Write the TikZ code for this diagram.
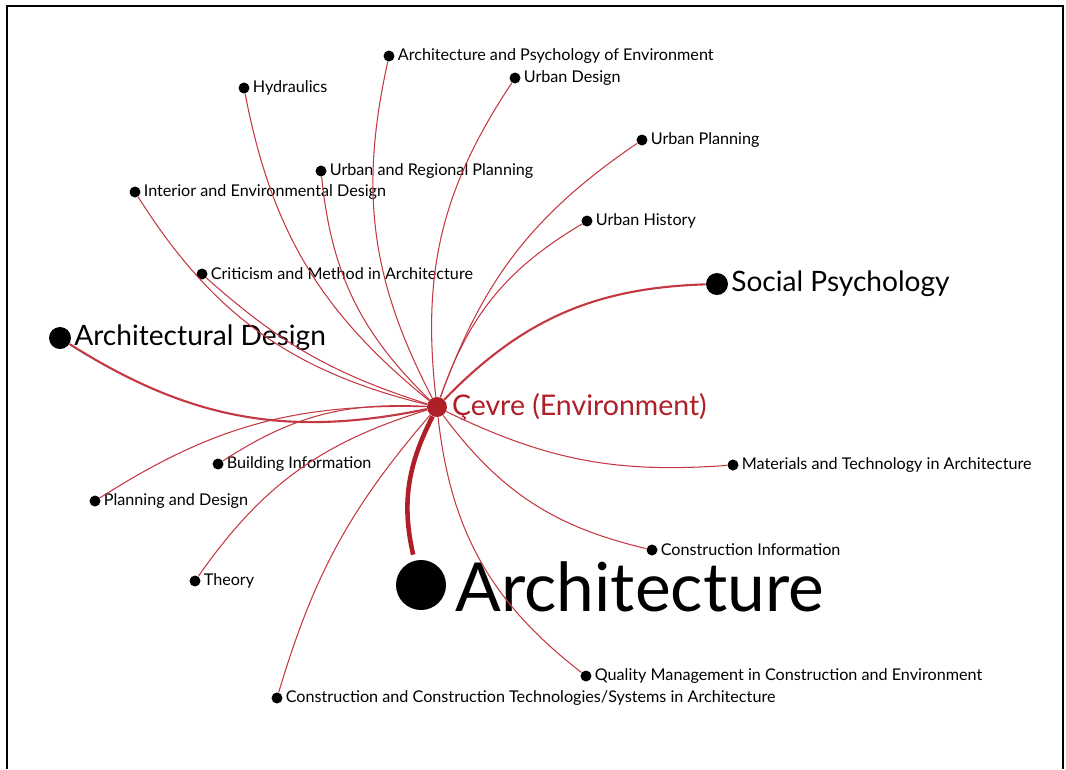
\documentclass[tikz,border=0pt]{standalone}
\usepackage{fontspec}
\setmainfont{Lato}
\usetikzlibrary{positioning}
\definecolor{envred}{RGB}{176,30,40}
\definecolor{edgered}{RGB}{196,56,66}
\tikzset{
    topic/.style={circle, fill=black, inner sep=0pt, minimum size=0.22cm,
        label distance=0pt},
    bigtopic/.style={circle, fill=black, inner sep=0pt, minimum size=0.44cm,
        label distance=2.5pt},
    smalltxt/.style={inner sep=1.5pt, font=\fontsize{9.2}{11}\selectfont},
    bigtxt/.style={inner sep=1.5pt, font=\fontsize{16}{19}\selectfont},
    link/.style={draw=edgered, line width=0.6pt},
    strong/.style={draw=edgered, line width=1.2pt},
    heavy/.style={draw=envred, line width=2.6pt}
}

\begin{document}
\begin{tikzpicture}[x=0.02cm, y=-0.02cm]

\useasboundingbox (0,0) rectangle (1066,769);
% frame (open at the bottom)
\draw[line width=1.2pt] (7,769) -- (7,6) -- (1063,6) -- (1063,769);

% ===============================================================
% ==== centre ====
% ===============================================================
\node[circle, fill=envred, inner sep=0pt, minimum size=0.4cm,
      label={[inner sep=1.5pt, label distance=1pt, text=envred, font=\fontsize{16.2}{19}\selectfont]right:Çevre (Environment)}]
      (env) at (437,407) {};

% ===============================================================
% ==== topics ====
% ===============================================================
\node[topic, label={[smalltxt]right:Architecture and Psychology of Environment}] (archpsy) at (389,56) {};
\node[topic, label={[smalltxt]right:Urban Design}] (udesign) at (515,78) {};
\node[topic, label={[smalltxt]right:Hydraulics}] (hydraulics) at (244,88) {};
\node[topic, label={[smalltxt]right:Urban Planning}] (uplanning) at (642,140) {};
\node[topic, label={[smalltxt]right:Urban and Regional Planning}] (urplanning) at (321,171) {};
\node[topic, label={[smalltxt]right:Interior and Environmental Design}] (interior) at (135,192) {};
\node[topic, label={[smalltxt]right:Urban History}] (uhistory) at (587,221) {};
\node[topic, label={[smalltxt]right:Criticism and Method in Architecture}] (criticism) at (202,274) {};
\node[bigtopic, label={[bigtxt]right:Social Psychology}] (socpsy) at (717,284) {};
\node[bigtopic, label={[bigtxt]right:Architectural Design}] (archdesign) at (60,338) {};
\node[topic, label={[smalltxt]right:Materials and Technology in Architecture}] (materials) at (733,465) {};
\node[topic, label={[smalltxt]right:Building Information}] (buildinfo) at (218,464) {};
\node[topic, label={[smalltxt]right:Planning and Design}] (plandesign) at (95,501) {};
\node[topic, label={[smalltxt]right:Construction Information}] (constinfo) at (652,550) {};
\node[topic, label={[smalltxt]right:Theory}] (theory) at (195,581) {};
\node[topic, label={[smalltxt]right:Quality Management in Construction and Environment}] (quality) at (586,676) {};
\node[topic, label={[smalltxt]right:Construction and Construction Technologies/Systems in Architecture}] (consttech) at (277,698) {};

% big one
\node[circle, fill=black, inner sep=0pt, minimum size=1cm,
      label={[inner sep=0pt, label distance=0.18cm, yshift=-0.05cm,
              text height=27.7pt, text depth=0pt,
              font=\fontsize{38.5}{44}\selectfont]right:Architecture}]
      (architecture) at (421,585) {};

% ===============================================================
% ==== links ====
% ===============================================================
\draw[link] (env) to[bend left=20] (hydraulics);
\draw[link] (env) to[bend left=20] (archpsy);
\draw[link] (env) to[bend left=20] (udesign);
\draw[link] (env) to[bend left=18] (uplanning);
\draw[link] (env) to[bend left=20] (uhistory);
\draw[link] (env) to[bend left=20] (urplanning);
\draw[link] (env) to[bend left=22] (interior);
\draw[link] (env) to[bend left=12] (criticism);
\draw[strong] (env) to[bend left=22] (socpsy);
\draw[strong] (env) to[bend left=22] (archdesign);

\draw[link] (env) to[bend right=18] (buildinfo);
\draw[link] (env) to[bend right=17] (plandesign);
\draw[link] (env) to[bend right=19] (theory);
\draw[link] (env) to[bend right=12] (consttech);
\draw[link] (env) to[bend right=23] (quality);
\draw[link] (env) to[bend right=20] (constinfo);
\draw[link] (env) to[bend right=15] (materials);

\draw[heavy, shorten >=0.12cm] (env) to[bend right=20] (architecture);

\end{tikzpicture}
\end{document}
